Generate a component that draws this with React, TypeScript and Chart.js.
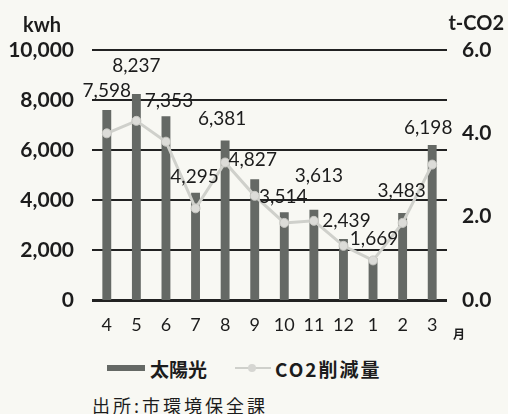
import React, { useEffect, useRef } from "react";
import { Chart, registerables } from "chart.js";

Chart.register(...registerables);

// ---- data ----
const months = ["4", "5", "6", "7", "8", "9", "10", "11", "12", "1", "2", "3"];
const solarKwh = [7598, 8237, 7353, 4295, 6381, 4827, 3514, 3613, 2439, 1669, 3483, 6198];
const co2Reduction = [4.0, 4.3, 3.8, 2.2, 3.3, 2.5, 1.85, 1.9, 1.3, 0.95, 1.85, 3.25];
const leftTicks = [0, 2000, 4000, 6000, 8000, 10000];
const rightTicks = [0, 2, 4, 6];
const seriesNames = ["太陽光", "CO2削減量"];
const leftUnit = "kwh";
const rightUnit = "t-CO2";
const xUnit = "月";
const sourceNote = "出所:市環境保全課";

// ---- label nudges (style only) ----
const labelLift = [13, 22, 9, 10, 15, 13, 9, 28, 12, 13, 16, 11];
const labelShift = [0, 0, 3, -1, -3, -2, -1, 5, 3, 1, -1, -4];

const BAR_COLOR = "#656965";
const LINE_COLOR = "#cfd0cb";
const TEXT = "#1c1c1c";
const BG = "#f8f8f3";
const GRID = "#222222";

function drawRules(chart: any, color: string, width: number) {
  const ctx = chart.ctx;
  const area = chart.chartArea;
  const ys = chart.scales.y;
  ctx.save();
  ctx.setLineDash([]);
  ctx.globalAlpha = 1;
  ctx.globalCompositeOperation = "source-over";
  ctx.fillStyle = color;
  for (const v of leftTicks) {
    const y = Math.round(ys.getPixelForValue(v));
    const w = v === 0 ? width + 1 : width;
    ctx.fillRect(area.left, y - Math.floor(w / 2), area.right - area.left, w);
  }
  ctx.restore();
}

const annotate = {
  id: "annotate",
  beforeDatasetsDraw(chart: any) {
    drawRules(chart, GRID, 2);
  },
  afterDraw(chart: any) {
    const ctx = chart.ctx;
    const meta = chart.getDatasetMeta(0);
    ctx.save();
    ctx.fillStyle = TEXT;
    ctx.font = "19px Lato";
    ctx.textAlign = "center";
    ctx.textBaseline = "alphabetic";
    meta.data.forEach((bar: any, i: number) => {
      ctx.fillText(
        solarKwh[i].toLocaleString("en-US"),
        bar.x + labelShift[i],
        bar.y - labelLift[i]
      );
    });
    const area = chart.chartArea;
    ctx.font = "bold 20px Lato";
    ctx.textAlign = "left";
    ctx.fillText(leftUnit, 23, area.top - 18);
    ctx.textAlign = "right";
    ctx.fillText(rightUnit, 504, area.top - 20);
    ctx.font = "bold 12px 'Noto Sans CJK JP'";
    ctx.textAlign = "center";
    ctx.fillText(xUnit, area.right + 12, area.bottom + 39);
    ctx.restore();
  },
};

export default function App() {
  const ref = useRef<HTMLCanvasElement | null>(null);

  useEffect(() => {
    document.body.style.margin = "0";
    document.body.style.background = BG;
    const canvas = ref.current;
    if (!canvas) return;
    const chart = new Chart(canvas, {
      type: "bar",
      data: {
        labels: months,
        datasets: [
          {
            type: "bar",
            label: seriesNames[0],
            data: solarKwh,
            backgroundColor: BAR_COLOR,
            yAxisID: "y",
            barPercentage: 0.3,
            categoryPercentage: 1,
            order: 2,
          },
          {
            type: "line",
            label: seriesNames[1],
            data: co2Reduction,
            borderColor: LINE_COLOR,
            borderWidth: 3,
            pointRadius: 4.5,
            pointBackgroundColor: "#dcdcd8",
            pointBorderColor: "#c8c8c3",
            pointBorderWidth: 1,
            yAxisID: "y1",
            tension: 0,
            order: 1,
          },
        ],
      } as any,
      options: {
        responsive: false,
        animation: false,
        layout: { padding: { top: 50, left: 0, right: 0, bottom: 0 } },
        plugins: {
          legend: { display: false },
          tooltip: { enabled: false },
        },
        scales: {
          x: {
            grid: { display: false },
            border: { display: false },
            ticks: {
              color: TEXT,
              font: { family: "Lato", size: 18, weight: "normal" },
              padding: 6,
              maxRotation: 0,
              autoSkip: false,
            },
            afterFit: (s: any) => {
              s.height = 50;
            },
          },
          y: {
            position: "left",
            min: 0,
            max: 10000,
            afterBuildTicks: (s: any) => {
              s.ticks = leftTicks.map((v) => ({ value: v }));
            },
            grid: { display: false, drawTicks: false },
            border: { display: false },
            ticks: {
              color: TEXT,
              font: { family: "Lato", size: 21, weight: "bold" },
              padding: 18,
              callback: (v: any) => Number(v).toLocaleString("en-US"),
            },
            afterFit: (s: any) => {
              s.width = 92;
            },
          },
          y1: {
            position: "right",
            min: 0,
            max: 6,
            afterBuildTicks: (s: any) => {
              s.ticks = rightTicks.map((v) => ({ value: v }));
            },
            grid: { display: false, drawTicks: false },
            border: { display: false },
            ticks: {
              color: TEXT,
              font: { family: "Lato", size: 21, weight: "bold" },
              padding: 15,
              callback: (v: any) => Number(v).toFixed(1),
            },
            afterFit: (s: any) => {
              s.width = 61;
            },
          },
        },
      } as any,
      plugins: [annotate],
    });
    return () => chart.destroy();
  }, []);

  const cjk = "'Noto Sans CJK JP', sans-serif";
  return (
    <div style={{ position: "relative", width: 508, height: 414, background: BG, overflow: "hidden" }}>
      <canvas ref={ref} width={508} height={350} style={{ display: "block", width: 508, height: 350 }} />
      <div style={{ position: "absolute", left: 107, top: 365, width: 38, height: 6, background: BAR_COLOR }} />
      <span
        style={{
          position: "absolute",
          left: 150,
          top: 359,
          font: `bold 19px ${cjk}`,
          lineHeight: "19px",
          color: TEXT,
          whiteSpace: "nowrap",
        }}
      >
        {seriesNames[0]}
      </span>
      <div style={{ position: "absolute", left: 235, top: 367, width: 36, height: 2, background: LINE_COLOR }} />
      <div
        style={{
          position: "absolute",
          left: 248,
          top: 364,
          width: 8,
          height: 8,
          borderRadius: "50%",
          background: "#d6d6d2",
        }}
      />
      <span
        style={{
          position: "absolute",
          left: 275,
          top: 359,
          font: `bold 19px ${cjk}`,
          lineHeight: "19px",
          letterSpacing: "2px",
          color: TEXT,
          whiteSpace: "nowrap",
        }}
      >
        {seriesNames[1]}
      </span>
      <span
        style={{
          position: "absolute",
          left: 92,
          top: 396,
          font: `18px ${cjk}`,
          lineHeight: "18px",
          letterSpacing: "3px",
          color: TEXT,
          whiteSpace: "nowrap",
        }}
      >
        {sourceNote}
      </span>
    </div>
  );
}
